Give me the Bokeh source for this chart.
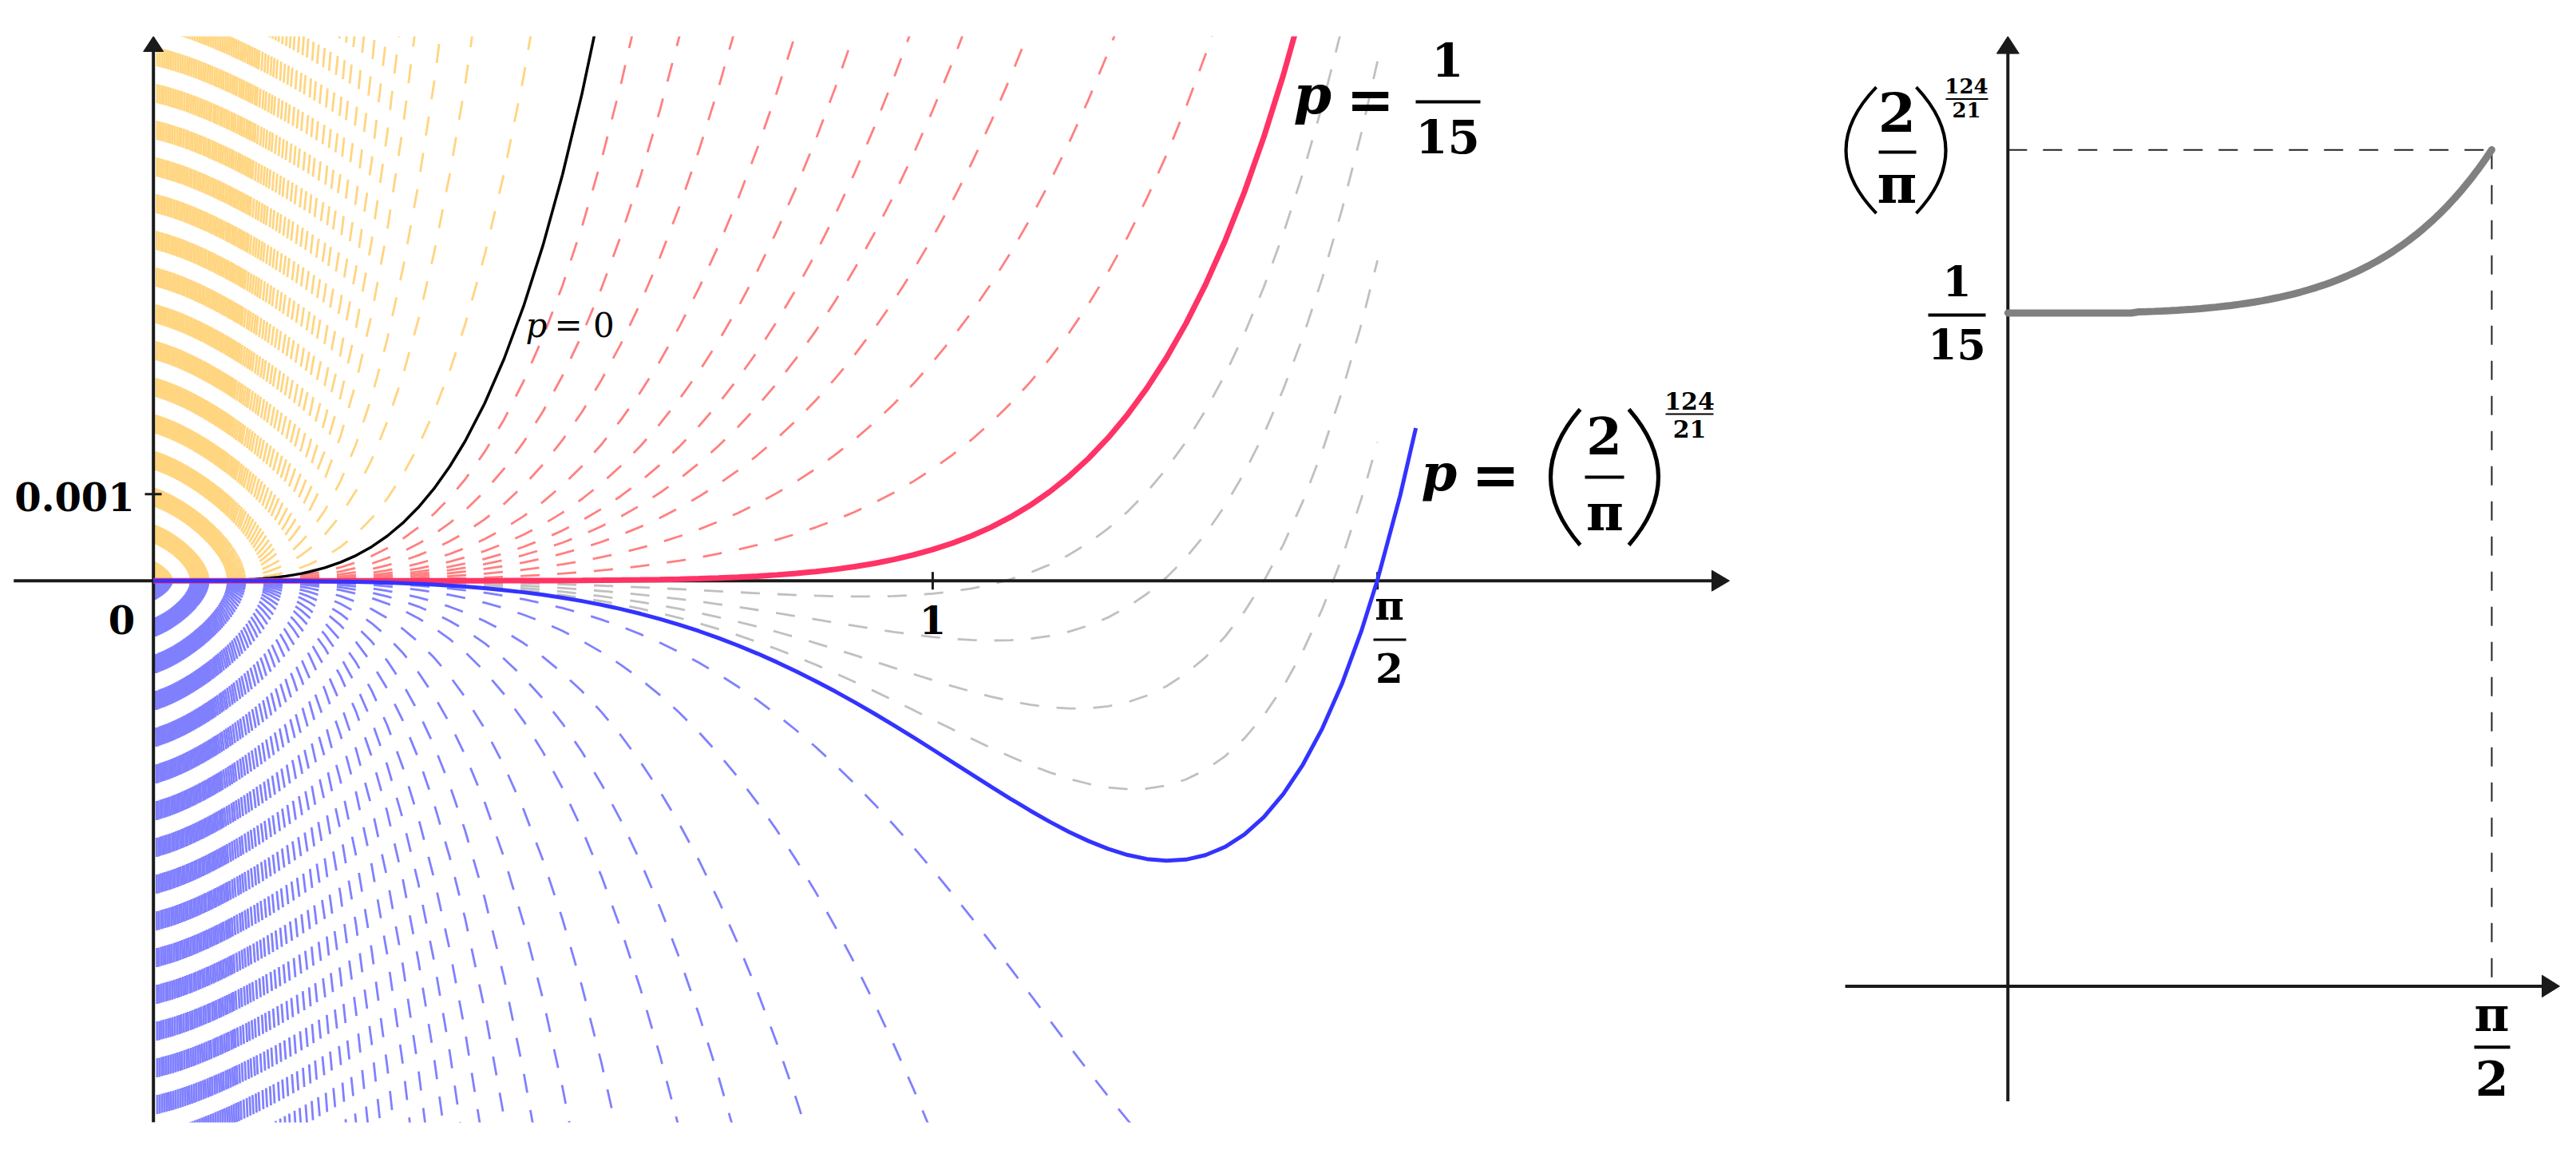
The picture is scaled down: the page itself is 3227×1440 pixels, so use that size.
import numpy as np
from bokeh.plotting import figure
from bokeh.layouts import row
from bokeh.models import Range1d
from bokeh.embed import file_html
from bokeh.resources import INLINE
from bokeh.core.properties import value

# ---------------- data ----------------
# f_p(x) = r(x) + (1/15 - p) * b(x)   (curve family, left panel)
x_vals = [0, 0.002, 0.003, 0.004, 0.005, 0.006, 0.007, 0.008, 0.009, 0.010,
          0.012, 0.014, 0.016, 0.018, 0.020, 0.023, 0.026, 0.030, 0.034, 0.038,
          0.042, 0.047, 0.052, 0.058, 0.064, 0.070, 0.077, 0.085, 0.093, 0.100,
          0.110, 0.120, 0.130, 0.140, 0.150, 0.160, 0.170, 0.180, 0.190, 0.200,
          0.220, 0.240, 0.260, 0.280, 0.300, 0.320, 0.340, 0.360, 0.380, 0.400,
          0.425, 0.450, 0.475, 0.500, 0.525, 0.550, 0.575, 0.600, 0.625, 0.650,
          0.675, 0.700, 0.725, 0.750, 0.775, 0.800, 0.825, 0.850, 0.875, 0.900,
          0.925, 0.950, 0.975, 1.000, 1.025, 1.050, 1.075, 1.100, 1.125, 1.150,
          1.175, 1.200, 1.225, 1.250, 1.275, 1.300, 1.325, 1.350, 1.375, 1.400,
          1.425, 1.450, 1.475, 1.500, 1.525, 1.550, 1.5708, 1.600, 1.620]

b_vals = [0, 1.552e-11, 7.857e-11, 2.483e-10, 6.063e-10, 1.257e-9, 2.329e-9, 3.973e-9, 6.364e-9, 9.700e-9,
          2.011e-8, 3.726e-8, 6.357e-8, 1.018e-7, 1.552e-7, 2.714e-7, 4.433e-7, 7.857e-7, 1.296e-6, 2.023e-6,
          3.018e-6, 4.733e-6, 7.092e-6, 1.097e-5, 1.626e-5, 2.327e-5, 3.407e-5, 5.057e-5, 7.246e-5, 9.684e-5,
          1.4173e-4, 2.0066e-4, 2.7626e-4, 3.7142e-4, 4.8922e-4, 6.3299e-4, 8.0625e-4, 1.01277e-3, 1.25650e-3, 1.54166e-3,
          2.25397e-3, 3.18733e-3, 4.38290e-3, 5.88453e-3, 7.73970e-3, 9.99848e-3, 1.27141e-2, 1.59427e-2, 1.97426e-2, 2.41752e-2,
          3.07026e-2, 3.84472e-2, 4.75435e-2, 5.81303e-2, 7.03510e-2, 8.43530e-2, 0.100286, 0.118304, 0.138561, 0.161214,
          0.186420, 0.214338, 0.245125, 0.278940, 0.315936, 0.356267, 0.400087, 0.447539, 0.498769, 0.553914,
          0.613109, 0.676480, 0.744148, 0.816227, 0.892821, 0.974026, 1.059931, 1.150611, 1.246132, 1.346554,
          1.451913, 1.562246, 1.677568, 1.797880, 1.923176, 2.053429, 2.188597, 2.328625, 2.473440, 2.622950,
          2.777051, 2.935618, 3.098503, 3.265550, 3.436572, 3.611379, 3.759511, 3.971423, 4.118992]

r_vals = [0.0] * 50 + [
          5.9e-7, 9.0e-7, 1.35e-6, 1.99e-6, 2.87e-6, 4.07e-6, 5.67e-6, 7.81e-6, 1.060e-5, 1.423e-5,
          1.888e-5, 2.481e-5, 3.227e-5, 4.161e-5, 5.322e-5, 6.753e-5, 8.506e-5, 1.0641e-4, 1.3224e-4, 1.6336e-4,
          2.0062e-4, 2.4504e-4, 2.9774e-4, 3.6000e-4, 4.3325e-4, 5.1908e-4, 6.1925e-4, 7.3580e-4, 8.7086e-4, 1.02693e-3,
          1.20666e-3, 1.41309e-3, 1.64944e-3, 1.91911e-3, 2.22649e-3, 2.57556e-3, 2.97113e-3, 3.41831e-3, 3.92277e-3, 4.49014e-3,
          5.12779e-3, 5.84218e-3, 6.64118e-3, 7.53324e-3, 8.52740e-3, 9.63338e-3, 1.06464e-2, 1.222381e-2, 1.34173e-2]

P_BLACK = 0.0
P_PINK = 1 / 15
P_BLUE = (2 / np.pi) ** (124 / 21)

# where each dashed curve leaves the frame (x on the top / bottom edge)
yellow_exit_x = [0.484, 0.409, 0.368, 0.335, 0.315, 0.299, 0.284, 0.270, 0.258, 0.248,
                 0.239, 0.229, 0.221, 0.213, 0.206, 0.199, 0.193, 0.187, 0.181, 0.176,
                 0.171, 0.166, 0.161, 0.157, 0.153, 0.149, 0.145, 0.141, 0.137, 0.134,
                 0.131, 0.128, 0.125, 0.122, 0.119, 0.116, 0.113, 0.110, 0.107, 0.104,
                 0.101, 0.098, 0.095, 0.092, 0.089, 0.086, 0.083, 0.080, 0.077, 0.074,
                 0.071, 0.068, 0.065, 0.062, 0.059, 0.056, 0.053, 0.050, 0.047, 0.044,
                 0.041, 0.038, 0.035, 0.032, 0.029, 0.026, 0.023, 0.020, 0.017, 0.014,
                 0.011, 0.008, 0.005]
red_exit_x = [0.614, 0.675, 0.744, 0.823, 0.898, 0.970, 1.038, 1.121, 1.233, 1.358]
blue_exit_x = [1.253, 0.9935, 0.8347, 0.742, 0.6727, 0.5922, 0.5337, 0.4866, 0.451, 0.4187,
               0.3936, 0.3716, 0.3486, 0.329, 0.308, 0.291, 0.275, 0.260, 0.247, 0.235,
               0.224, 0.214, 0.205, 0.197, 0.189, 0.182, 0.175, 0.169, 0.163, 0.157,
               0.152, 0.147, 0.142, 0.137, 0.133, 0.129, 0.125, 0.121, 0.117, 0.113,
               0.110, 0.107, 0.104, 0.101, 0.098, 0.095, 0.092, 0.089, 0.086, 0.083,
               0.080, 0.077, 0.074, 0.071, 0.068, 0.065, 0.062, 0.059, 0.056, 0.053,
               0.050, 0.047, 0.044, 0.041, 0.038, 0.035, 0.032, 0.029, 0.026, 0.023,
               0.020, 0.017, 0.014, 0.011, 0.008, 0.005]
gray_end_y = [0.0083, 0.0060, 0.0037, 0.0016]   # value at x = pi/2

# ---------------- layout constants (screen pixels) ----------------
OFF = 0                          # where the canvases start on the screen
W1, W2 = 2238, 981
H1, H2 = 1432, 1432
TOP_PX, BOT_PX = 45, 1405        # clip box of the curves
X0PX, XU = 191.7, 976.2          # left panel: x=0 pixel, px per unit
Y0PX, YU = 726.7, 108400.0       # left panel: y=0 pixel, px per unit
X0R, XUR = 2514.8, 385.9         # right panel
YR0, YUR = 398.3, 73622.0        # right panel: pixel of p=1/15, px per unit

def L(px, py):
    return (px - X0PX) / XU, (Y0PX - py) / YU

def RT(px, py):
    return (px - X0R) / XUR, 1 / 15 + (YR0 - py) / YUR

X = np.array(x_vals)
Bv = np.array(b_vals)
Rv = np.array(r_vals)
i_end = int(np.argmin(np.abs(X - np.pi / 2))) + 1
Y_TOP, Y_BOT = 0.00629, -0.00626

def curve(p, n=i_end):
    y = Rv[:n] + (1 / 15 - p) * Bv[:n]
    far = np.nonzero(np.abs(y) > 0.03)[0]
    m = int(far[0]) + 1 if len(far) else n
    return X[:m].tolist(), y[:m].tolist()

def p_top(xe):
    return 1 / 15 - (Y_TOP - np.interp(xe, X, Rv)) / np.interp(xe, X, Bv)

def p_bottom(xe):
    return 1 / 15 + (np.interp(xe, X, Rv) - Y_BOT) / np.interp(xe, X, Bv)

def p_end(v):
    return 1 / 15 + (Rv[i_end - 1] - v) / Bv[i_end - 1]

def family(ps):
    xs, ys = [], []
    for p in ps:
        a, b = curve(p)
        xs.append(a)
        ys.append(b)
    return xs, ys

FONT = value("DejaVu Serif")
AX = "#1a1a1a"
DASH = "24 22"

def texts(fig, conv, items, size, style="bold", align="center"):
    xs, ys, ts = [], [], []
    for t, px, py in items:
        a, b = conv(px, py)
        xs.append(a); ys.append(b); ts.append(t)
    fig.text(x=xs, y=ys, text=ts, text_font=FONT, text_font_size=size,
             text_font_style=style, text_align=align, text_baseline="middle",
             text_color="black")

def bars(fig, conv, items, width):
    for x0, x1, y in items:
        a0, b0 = conv(x0, y)
        a1, b1 = conv(x1, y)
        fig.segment(x0=[a0], y0=[b0], x1=[a1], y1=[b1], line_width=width, line_color="black")

def paren(fig, conv, top, bottom, ctrl, width):
    a0, b0 = conv(*top)
    a1, b1 = conv(*bottom)
    c0, c1 = conv(*ctrl)
    fig.quadratic(x0=[a0], y0=[b0], x1=[a1], y1=[b1], cx=[c0], cy=[c1],
                  line_width=width, line_color="black")

def tri(fig, conv, pts):
    xs, ys = zip(*[conv(*q) for q in pts])
    fig.patch(list(xs), list(ys), fill_color=AX, line_color=AX, line_width=1)

def seg(fig, conv, a, b, width, color=AX, dash="solid"):
    x0, y0 = conv(*a)
    x1, y1 = conv(*b)
    fig.line([x0, x1], [y0, y1], line_width=width, line_color=color, line_dash=dash)

def make_fig(w, h, conv, left_px, bottom_frame_px):
    x_lo, y_hi = conv(left_px, TOP_PX)
    x_hi, y_lo = conv(left_px + w, bottom_frame_px)
    f = figure(width=w, height=h, output_backend="svg", toolbar_location=None,
               x_axis_type=None, y_axis_type=None,
               x_range=Range1d(x_lo, x_hi), y_range=Range1d(y_lo, y_hi),
               min_border_left=0, min_border_right=0,
               min_border_top=TOP_PX - OFF, min_border_bottom=OFF + h - bottom_frame_px)
    f.outline_line_color = None
    f.background_fill_color = "white"
    f.border_fill_color = "white"
    return f

# ---------------- left panel ----------------
p1 = make_fig(W1, H1, L, OFF, BOT_PX)

fam = [
    ([p_top(v) for v in yellow_exit_x], "#FFD580"),
    ([p_top(v) for v in red_exit_x], "#FF8080"),
    ([p_end(v) for v in gray_end_y], "#C0C0C0"),
    ([p_bottom(v) for v in blue_exit_x], "#8080FF"),
]
for ps, col in fam:
    xs, ys = family(ps)
    p1.multi_line(xs=xs, ys=ys, line_color=col, line_width=2.8, line_dash=DASH)

# axes
seg(p1, L, (16.7, Y0PX), (2146, Y0PX), 4)
tri(p1, L, [(2166, Y0PX), (2144, Y0PX - 13), (2144, Y0PX + 13)])
seg(p1, L, (X0PX, BOT_PX), (X0PX, 62), 4)
tri(p1, L, [(X0PX, TOP_PX), (X0PX - 12.5, 64), (X0PX + 12.5, 64)])
for xt in (1.0, np.pi / 2):
    px = X0PX + xt * XU
    seg(p1, L, (px, Y0PX - 11), (px, Y0PX + 11), 3)
seg(p1, L, (181, Y0PX - 0.001 * YU), (202, Y0PX - 0.001 * YU), 3)

# solid curves
bx, by = curve(P_BLACK)
p1.line(bx, by, line_color="black", line_width=3.5)
kx, ky = curve(P_PINK)
p1.line(kx, ky, line_color="#FF3366", line_width=7)
ux, uy = curve(P_BLUE, n=len(X))
p1.line(ux, uy, line_color="#3333FF", line_width=5)

# labels (anchors are the visual centres of the glyphs)
texts(p1, L, [("0.001", 93, 621), ("0", 152, 775), ("1", 1168, 775)], "48px")
texts(p1, L, [("π", 1740, 758), ("2", 1740, 836)], "50px")
bars(p1, L, [(1720, 1761, 800.6)], 3)

texts(p1, L, [("p", 658, 407)], "42px", style="italic", align="left")
texts(p1, L, [("= 0", 694, 407)], "42px", style="normal", align="left")

texts(p1, L, [("p", 1620, 117)], "68px", style="bold italic", align="left")
texts(p1, L, [("=", 1686, 124)], "72px", align="left")
texts(p1, L, [("1", 1813, 74), ("15", 1813, 170)], "58px")
bars(p1, L, [(1773, 1854, 127)], 4)

texts(p1, L, [("p", 1780, 591)], "64px", style="bold italic", align="left")
texts(p1, L, [("=", 1843, 594)], "72px", align="left")
paren(p1, L, (1979, 512), (1979, 682), (1905, 597), 5)
paren(p1, L, (2040, 512), (2040, 682), (2114, 597), 5)
texts(p1, L, [("2", 2009, 545), ("π", 2010, 641)], "64px")
bars(p1, L, [(1985, 2034, 597)], 4)
texts(p1, L, [("124", 2116, 501), ("21", 2116, 536)], "30px")
bars(p1, L, [(2086, 2146, 518)], 2)

# ---------------- right panel ----------------
p2 = make_fig(W2, H2, RT, OFF + W1, OFF + H2)

BASE_PX = 1258
xq, yq = X0R + (np.pi / 2) * XUR, YR0 - (P_BLUE - 1 / 15) * YUR
seg(p2, RT, (X0R, yq), (xq, yq), 2, color="#222222", dash="24 20")
seg(p2, RT, (xq, yq), (xq, BASE_PX), 2, color="#222222", dash="24 20")

seg(p2, RT, (2311, BASE_PX), (3186, BASE_PX), 4)
tri(p2, RT, [(3206, BASE_PX), (3184, BASE_PX - 14), (3184, BASE_PX + 14)])
seg(p2, RT, (X0R, BOT_PX), (X0R, 64), 4)
tri(p2, RT, [(X0R, TOP_PX), (X0R - 14, 67), (X0R + 14, 67)])

rx = [0.0] + X[1:i_end].tolist()
ry = [1 / 15] + (1 / 15 + Rv[1:i_end] / Bv[1:i_end]).tolist()
p2.line(rx, ry, line_color="#808080", line_width=9, line_cap="round")

paren(p2, RT, (2350, 110), (2350, 271), (2274, 190.5), 4)
paren(p2, RT, (2400, 110), (2400, 271), (2474, 190.5), 4)
texts(p2, RT, [("2", 2376, 142), ("π", 2376, 233)], "68px")
bars(p2, RT, [(2353, 2400, 193)], 4)
texts(p2, RT, [("124", 2463, 108), ("21", 2463, 139)], "26px")
bars(p2, RT, [(2437, 2490, 125)], 2)
texts(p2, RT, [("1", 2451, 358), ("15", 2451, 438)], "52px")
bars(p2, RT, [(2415, 2487, 401)], 4)
texts(p2, RT, [("π", 3121, 1294), ("2", 3121, 1375)], "60px")
bars(p2, RT, [(3099, 3144, 1336)], 4)

layout = row(p1, p2)
open("out.html", "w").write(file_html(layout, INLINE))
